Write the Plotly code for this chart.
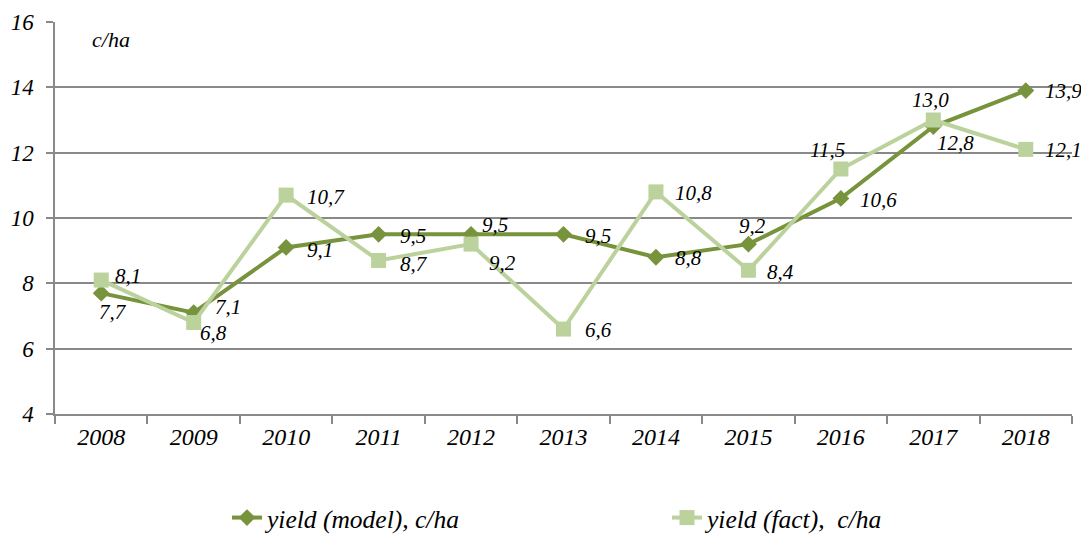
import plotly.graph_objects as go

years = ["2008", "2009", "2010", "2011", "2012", "2013", "2014", "2015", "2016", "2017", "2018"]
model = [7.7, 7.1, 9.1, 9.5, 9.5, 9.5, 8.8, 9.2, 10.6, 12.8, 13.9]
fact = [8.1, 6.8, 10.7, 8.7, 9.2, 6.6, 10.8, 8.4, 11.5, 13.0, 12.1]
y_ticks = [4, 6, 8, 10, 12, 14, 16]

# label placement (style only): (xanchor, yanchor, xshift, yshift)
model_pos = [("left", "middle", -4, -19), ("left", "middle", 19, 6), ("left", "middle", 19, -3),
             ("left", "middle", 19, -2), ("left", "middle", 9, 9), ("left", "middle", 19, -2),
             ("left", "middle", 17, -1), ("center", "middle", 4, 18), ("left", "middle", 17, -2),
             ("left", "middle", 2, -16), ("left", "middle", 17, 0)]
fact_pos = [("left", "middle", 12, 4), ("left", "middle", 4, -10), ("left", "middle", 19, -2),
            ("left", "middle", 19, -4), ("left", "middle", 16, -19), ("left", "middle", 19, -1),
            ("left", "middle", 17, -1), ("left", "middle", 17, -2), ("center", "middle", -13, 19),
            ("center", "middle", -3, 20), ("left", "middle", 17, -1)]

dark = "#77933C"
light = "#BBD29C"
font_family = "Liberation Serif"

fig = go.Figure()
fig.add_trace(go.Scatter(x=years, y=model, mode="lines+markers", name="<i>yield (model), c/ha</i>",
                         line=dict(color=dark, width=4), legend="legend",
                         marker=dict(symbol="diamond", size=13, color=dark)))
fig.add_trace(go.Scatter(x=years, y=fact, mode="lines+markers", name="<i>yield (fact),  c/ha</i>",
                         line=dict(color=light, width=4), legend="legend2",
                         marker=dict(symbol="square", size=15, color=light)))

def fmt(v):
    return "<i>" + f"{v:.1f}".replace(".", ",") + "</i>"

for series, pos in ((model, model_pos), (fact, fact_pos)):
    for i, (v, (xa, ya, xs, ys)) in enumerate(zip(series, pos)):
        fig.add_annotation(x=i, y=v, xref="x", yref="y", text=fmt(v), showarrow=False,
                           xanchor=xa, yanchor=ya, xshift=xs, yshift=ys,
                           font=dict(family=font_family, size=21, color="#000000"))

fig.add_annotation(xref="paper", yref="paper", x=0.034, y=0.955, text="<i>c/ha</i>", showarrow=False,
                   xanchor="left", yanchor="middle",
                   font=dict(family=font_family, size=22, color="#000000"))

legend_common = dict(orientation="h", xref="container", yref="container",
                     y=1 - 510 / 526, xanchor="left", yanchor="middle",
                     font=dict(family=font_family, size=25.5, color="#000000"),
                     bgcolor="rgba(0,0,0,0)")

fig.update_layout(
    width=1081, height=526,
    margin=dict(l=47, r=17, t=14, b=120),
    paper_bgcolor="white", plot_bgcolor="white",
    font=dict(family=font_family, size=20, color="#000000"),
    showlegend=True,
    legend=dict(x=219 / 1081, **legend_common),
    legend2=dict(x=659 / 1081, **legend_common),
    xaxis=dict(type="category", tickson="boundaries", ticks="outside", ticklen=8,
               tickcolor="#898989", tickwidth=1.5, showgrid=False, showline=True,
               linecolor="#898989", linewidth=1.5, automargin=False,
               tickfont=dict(family=font_family, size=24, style="italic"), range=[-0.5, 10.5]),
    yaxis=dict(range=[4, 16], tickvals=y_ticks, ticks="outside", ticklen=7, tickcolor="#898989",
               tickwidth=1.5, showgrid=True, gridcolor="#898989", gridwidth=1.5,
               showline=True, linecolor="#898989", linewidth=1.5, zeroline=False, automargin=False,
               tickfont=dict(family=font_family, size=23, style="italic"), ticklabelstandoff=8),
)

fig.write_html("out.html")
